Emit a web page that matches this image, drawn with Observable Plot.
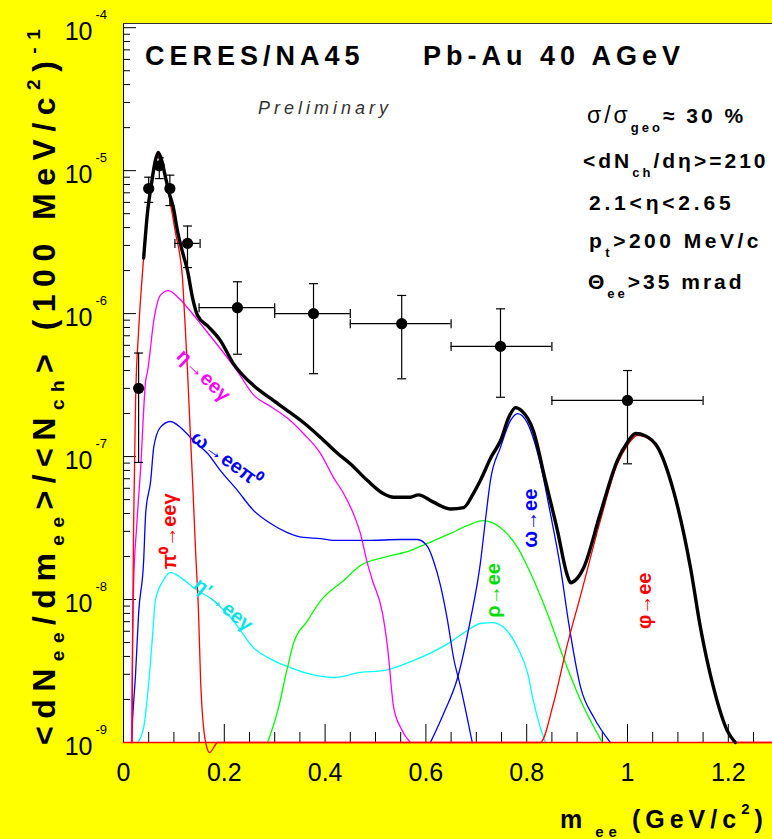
<!DOCTYPE html>
<html><head><meta charset="utf-8">
<script src="https://cdn.jsdelivr.net/npm/d3@7"></script>
<script src="https://cdn.jsdelivr.net/npm/@observablehq/plot@0.6"></script>
<style>
html,body{margin:0;padding:0;background:#ffff00;}
#chart{width:772px;height:839px;overflow:hidden;}
</style></head><body><div id="chart"></div>
<script>
// ---------- data ----------
const cocktail = [[0.040,2.45e-6],[0.048,5.25e-6],[0.056,8.3e-6],[0.063,1.17e-5],[0.069,1.34e-5],[0.076,1.17e-5],[0.083,9.1e-6],[0.091,6.9e-6],[0.099,5.5e-6],[0.107,3.8e-6],[0.117,2.7e-6],[0.127,2.0e-6],[0.137,1.29e-6],[0.147,9.7e-7],[0.167,8.2e-7],[0.192,6.5e-7],[0.218,4.47e-7],[0.258,3.14e-7],[0.292,2.55e-7],[0.325,2.10e-7],[0.357,1.73e-7],[0.391,1.36e-7],[0.425,1.05e-7],[0.450,8.9e-8],[0.484,6.8e-8],[0.516,5.5e-8],[0.536,5.2e-8],[0.569,5.2e-8],[0.585,5.4e-8],[0.615,4.8e-8],[0.649,4.3e-8],[0.675,4.4e-8],[0.694,5.5e-8],[0.708,6.8e-8],[0.730,1.0e-7],[0.748,1.29e-7],[0.765,1.9e-7],[0.778,2.2e-7],[0.790,2.09e-7],[0.813,1.52e-7],[0.837,6.8e-8],[0.861,3.04e-8],[0.880,1.5e-8],[0.887,1.31e-8],[0.898,1.38e-8],[0.913,1.67e-8],[0.946,3.99e-8],[0.980,9.4e-8],[1.000,1.26e-7],[1.016,1.45e-7],[1.035,1.40e-7],[1.060,1.16e-7],[1.091,5.8e-8],[1.125,1.67e-8],[1.145,6.3e-9],[1.171,2.4e-9],[1.198,1.21e-9],[1.214,1e-9]];

const pi0Dalitz = [[0.017,1e-9],[0.018,5.0e-9],[0.020,3.2e-8],[0.024,2.5e-7],[0.030,7.6e-7],[0.038,2.0e-6],[0.046,4.5e-6],[0.054,7.9e-6],[0.060,1.07e-5],[0.067,1.27e-5],[0.075,1.17e-5],[0.085,8.3e-6],[0.095,5.4e-6],[0.105,3.4e-6],[0.110,2.8e-6],[0.117,1.78e-6],[0.121,1.0e-6],[0.127,4.0e-7],[0.132,1.6e-7],[0.137,6.8e-8],[0.143,2.2e-8],[0.149,7.9e-9],[0.153,2.7e-9],[0.163,1e-9],[0.171,8.5e-10],[0.187,1e-9],[1.29,1e-9]];

const etaDalitz = [[0.016,1e-9],[0.018,5.0e-9],[0.020,1.26e-8],[0.026,3.2e-8],[0.034,8.3e-8],[0.044,3.4e-7],[0.048,4.0e-7],[0.060,8.9e-7],[0.073,1.34e-6],[0.089,1.45e-6],[0.109,1.29e-6],[0.127,1.10e-6],[0.159,7.98e-7],[0.192,5.7e-7],[0.226,3.95e-7],[0.258,2.7e-7],[0.292,2.24e-7],[0.325,1.86e-7],[0.357,1.45e-7],[0.391,1.05e-7],[0.417,7.1e-8],[0.437,5.5e-8],[0.456,4.0e-8],[0.470,2.9e-8],[0.484,1.79e-8],[0.494,1.36e-8],[0.514,8.0e-9],[0.524,4.6e-9],[0.536,1.76e-9],[0.550,1.27e-9],[0.569,1e-9]];

const omegaDalitz = [[0.016,1e-9],[0.018,1.43e-9],[0.024,3.04e-9],[0.030,8.0e-9],[0.040,1.87e-8],[0.044,4.0e-8],[0.054,6.8e-8],[0.060,1.16e-7],[0.073,1.60e-7],[0.093,1.76e-7],[0.113,1.60e-7],[0.139,1.29e-7],[0.167,1.05e-7],[0.192,8.0e-8],[0.226,5.8e-8],[0.258,4.2e-8],[0.292,3.4e-8],[0.325,2.94e-8],[0.357,2.72e-8],[0.391,2.67e-8],[0.417,2.59e-8],[0.484,2.59e-8],[0.550,2.63e-8],[0.583,2.63e-8],[0.603,2.35e-8],[0.615,1.87e-8],[0.629,1.25e-8],[0.643,7.1e-9],[0.655,3.9e-9],[0.669,2.43e-9],[0.683,1.43e-9],[0.692,1e-9]];

const etaPrimeDalitz = [[0.028,1e-9],[0.040,1.27e-9],[0.050,2.6e-9],[0.058,5.8e-9],[0.063,9.8e-9],[0.079,1.36e-8],[0.093,1.55e-8],[0.113,1.43e-8],[0.139,1.21e-8],[0.179,9.8e-9],[0.218,7.1e-9],[0.258,4.6e-9],[0.298,3.74e-9],[0.331,3.34e-9],[0.365,3.04e-9],[0.417,2.85e-9],[0.470,3.09e-9],[0.516,3.18e-9],[0.575,3.74e-9],[0.643,4.9e-9],[0.683,6.1e-9],[0.708,6.8e-9],[0.732,6.9e-9],[0.754,6.4e-9],[0.782,4.6e-9],[0.802,3.04e-9],[0.813,1.97e-9],[0.827,1.27e-9],[0.837,1e-9]];

const rhoEE = [[0.286,1e-9],[0.306,1.67e-9],[0.325,3.3e-9],[0.337,4.9e-9],[0.365,7.1e-9],[0.391,9.8e-9],[0.437,1.36e-8],[0.470,1.73e-8],[0.516,1.97e-8],[0.569,2.2e-8],[0.603,2.47e-8],[0.649,2.9e-8],[0.683,3.3e-8],[0.714,3.56e-8],[0.748,3.18e-8],[0.782,2.31e-8],[0.808,1.52e-8],[0.841,8.0e-9],[0.873,3.9e-9],[0.907,1.97e-9],[0.940,1.16e-9],[0.950,1e-9]];

const omegaEE = [[0.609,1e-9],[0.635,1.59e-9],[0.663,2.85e-9],[0.688,7.1e-9],[0.708,1.79e-8],[0.718,3.56e-8],[0.728,6.8e-8],[0.748,1.16e-7],[0.768,1.79e-7],[0.782,2.0e-7],[0.802,1.70e-7],[0.827,8.9e-8],[0.847,4.0e-8],[0.867,1.67e-8],[0.884,6.6e-9],[0.907,2.43e-9],[0.933,1.5e-9],[0.966,1e-9]];

const phiEE = [[0.0,1e-9],[0.827,1e-9],[0.853,1.87e-9],[0.881,4.9e-9],[0.907,1.07e-8],[0.946,3.55e-8],[0.980,8.9e-8],[1.000,1.2e-7],[1.020,1.41e-7],[1.035,1.37e-7],[1.060,1.13e-7],[1.091,5.7e-8],[1.125,1.66e-8],[1.145,6.2e-9],[1.171,2.4e-9],[1.198,1.2e-9],[1.214,1e-9],[1.29,1e-9]];

// data points: mass, yield, x-range, y-range
const dataMass  = [0.030, 0.050, 0.071, 0.092, 0.127, 0.226, 0.377, 0.552, 0.748, 1.000];
const dataYield = [3.0e-7, 7.5e-6, 1.08e-5, 7.5e-6, 3.1e-6, 1.10e-6, 1.0e-6, 8.5e-7, 5.9e-7, 2.47e-7];
const dataXlo   = [0.030, 0.050, 0.071, 0.092, 0.102, 0.150, 0.300, 0.450, 0.650, 0.850];
const dataXhi   = [0.030, 0.050, 0.071, 0.092, 0.152, 0.300, 0.450, 0.650, 0.850, 1.150];
const dataYlo   = [9.1e-8, 6.0e-6, 8.8e-6, 5.7e-6, 2.1e-6, 5.2e-7, 3.8e-7, 3.5e-7, 2.6e-7, 8.9e-8];
const dataYhi   = [5.3e-7, 9.0e-6, 1.23e-5, 9.3e-6, 4.1e-6, 1.67e-6, 1.62e-6, 1.34e-6, 1.08e-6, 4.0e-7];

// axis ticks
const xMajorTicks = [0, 0.2, 0.4, 0.6, 0.8, 1.0, 1.2];
const xTickLabels = ["0", "0.2", "0.4", "0.6", "0.8", "1", "1.2"];
const xMinorTicks = [0.05,0.1,0.15,0.25,0.3,0.35,0.45,0.5,0.55,0.65,0.7,0.75,0.85,0.9,0.95,1.05,1.1,1.15,1.25];
const yMajorTicks = [1e-9, 1e-8, 1e-7, 1e-6, 1e-5, 1e-4];
const yTickExp = ["-9", "-8", "-7", "-6", "-5", "-4"];
const yMinorTicks = yMajorTicks.slice(0, -1).flatMap(d => [2,3,4,5,6,7,8,9].map(k => k * d));

// curve labels
const curveLabels = [
  {text: "η→eeγ",   x: 0.159, y: 3.7e-7, rotate: 44, color: "#ff00ff"},
  {text: "ω→eeπ⁰",  x: 0.204, y: 9.6e-8, rotate: 36, color: "#0000ff"},
  {text: "π⁰→eeγ",  x: 0.091, y: 3.0e-8, rotate: -90, color: "#ff0000"},
  {text: "η'→eeγ",  x: 0.198, y: 9.2e-9, rotate: 40, color: "#00e5e5"},
  {text: "ρ→ee",    x: 0.734, y: 1.16e-8, rotate: -90, color: "#00dd00"},
  {text: "ω→ee",    x: 0.808, y: 3.7e-8, rotate: -90, color: "#0000ff"},
  {text: "φ→ee",    x: 1.034, y: 9.8e-9, rotate: -90, color: "#ff0000"}
];

// ---------- chart ----------
const FONT = "'Liberation Sans', Arial, Helvetica, sans-serif";
const W = 772, H = 839, ML = 123, MT = 23, MB = 97, MR = 0;
const innerW = W - ML - MR, innerH = H - MT - MB;
const X_DOMAIN = [0, 1.2877], Y_DOMAIN = [1e-9, 1.07e-4];

const points = dataMass.map((x, i) => ({x, y: dataYield[i], xlo: dataXlo[i], xhi: dataXhi[i], ylo: dataYlo[i], yhi: dataYhi[i]}));
const wide = points.filter(d => d.xhi > d.xlo);

const capH = {draw(ctx, size) { const r = Math.sqrt(size / Math.PI); ctx.moveTo(-r, 0); ctx.lineTo(r, 0); }};
const capV = {draw(ctx, size) { const r = Math.sqrt(size / Math.PI); ctx.moveTo(0, -r); ctx.lineTo(0, r); }};

const px = d => d[0], py = d => d[1];
const thin = (data, color) => Plot.line(data, {x: px, y: py, stroke: color, strokeWidth: 1.3, curve: "monotone-x"});

const chart = Plot.plot({
  width: W, height: H,
  marginLeft: ML, marginRight: MR, marginTop: MT, marginBottom: MB,
  style: {background: "#ffff00", fontFamily: FONT, overflow: "visible"},
  x: {domain: X_DOMAIN, axis: null},
  y: {type: "log", domain: Y_DOMAIN, axis: null},
  marks: [
    Plot.frame({fill: "white", stroke: "none"}),
    // ticks pointing inward
    Plot.ruleX(xMinorTicks, {x: d => d, insetTop: innerH - 10, stroke: "black"}),
    Plot.ruleX(xMajorTicks, {x: d => d, insetTop: innerH - 18, stroke: "black"}),
    Plot.ruleY(yMinorTicks, {y: d => d, insetRight: innerW - 7, stroke: "black"}),
    Plot.ruleY(yMajorTicks, {y: d => d, insetRight: innerW - 13, stroke: "black"}),
    // frame lines
    Plot.ruleX([X_DOMAIN[0]], {stroke: "black"}),
    Plot.ruleY([Y_DOMAIN[0]], {stroke: "black"}),
    Plot.ruleY([Y_DOMAIN[1]], {stroke: "#333"}),
    // tick labels
    Plot.text(xMajorTicks, {x: d => d, frameAnchor: "bottom", dy: 38, text: (d, i) => xTickLabels[i], fontSize: 25, fill: "black"}),
    Plot.text(yMajorTicks, {y: d => d, frameAnchor: "left", dx: -31, dy: 4, text: () => "10", textAnchor: "end", fontSize: 25, fill: "black"}),
    Plot.text(yMajorTicks, {y: d => d, frameAnchor: "left", dx: -28, dy: -13, text: (d, i) => yTickExp[i], textAnchor: "start", fontSize: 13, fill: "black"}),
    // cocktail components
    thin(etaPrimeDalitz, "#00ffff"),
    thin(rhoEE, "#00ff00"),
    thin(omegaDalitz, "#0000ff"),
    thin(omegaEE, "#0000ff"),
    thin(etaDalitz, "#ff00ff"),
    thin(pi0Dalitz, "#ff0000"),
    thin(phiEE, "#ff0000"),
    Plot.line(cocktail, {x: px, y: py, stroke: "black", strokeWidth: 3.4, curve: "monotone-x"}),
    // curve labels
    ...curveLabels.map(l => Plot.text([l], {x: "x", y: "y", text: "text", rotate: l.rotate, fill: l.color, fontSize: 20, fontWeight: "bold", letterSpacing: 1.5})),
    // data with error bars
    Plot.ruleX(points, {x: "x", y1: "ylo", y2: "yhi", stroke: "black", strokeWidth: 1.2}),
    Plot.ruleY(wide, {y: "y", x1: "xlo", x2: "xhi", stroke: "black", strokeWidth: 1.2}),
    Plot.dot(points, {x: "x", y: "ylo", symbol: capH, r: 4.5, stroke: "black", strokeWidth: 1.2}),
    Plot.dot(points, {x: "x", y: "yhi", symbol: capH, r: 4.5, stroke: "black", strokeWidth: 1.2}),
    Plot.dot(wide, {x: "xlo", y: "y", symbol: capV, r: 4.5, stroke: "black", strokeWidth: 1.2}),
    Plot.dot(wide, {x: "xhi", y: "y", symbol: capV, r: 4.5, stroke: "black", strokeWidth: 1.2}),
    Plot.dot(points, {x: "x", y: "y", r: 5.6, fill: "black", stroke: "none"})
  ]
});

// ---------- rich text annotations ----------
const svg = d3.select(chart);
const g = svg.append("g").attr("font-family", FONT).attr("text-anchor", "start");
function rich(x, y, parts, opts = {}) {
  const t = g.append("text").attr("x", x).attr("y", y).attr("fill", opts.fill || "black")
    .attr("text-anchor", "start");
  if (opts.rotate) t.attr("transform", `rotate(${opts.rotate},${x},${y})`);
  if (opts.letterSpacing != null) t.attr("letter-spacing", opts.letterSpacing);
  let cur = 0;
  for (const p of parts) {
    const shift = p.shift || 0;
    const s = t.append("tspan").attr("dy", shift - cur).attr("font-size", p.size)
      .attr("font-weight", p.weight || "bold").text(p.t);
    if (p.dx) s.attr("dx", p.dx);
    if (p.style) s.attr("font-style", p.style);
    cur = shift;
  }
  return t;
}

// titles
rich(145, 65, [{t: "CERES/NA45", size: 27}], {letterSpacing: 5});
rich(423, 65, [{t: "Pb-Au 40 AGeV", size: 27}], {letterSpacing: 5});
rich(258, 114, [{t: "Preliminary", size: 18, weight: "normal", style: "italic"}], {letterSpacing: 4, fill: "#333"});

// conditions
const LS = 3;
rich(587, 123, [{t: "σ/σ", size: 23, weight: "normal"}, {t: "geo", size: 13, shift: 9}, {t: "≈ 30 %", size: 21}], {letterSpacing: LS});
rich(583, 168, [{t: "<dN", size: 21}, {t: "ch", size: 13, shift: 9}, {t: "/dη>=210", size: 21}], {letterSpacing: LS});
rich(589, 210, [{t: "2.1<η<2.65", size: 21}], {letterSpacing: 3.8});
rich(589, 248, [{t: "p", size: 21}, {t: "t", size: 13, shift: 9}, {t: ">200 MeV/c", size: 21}], {letterSpacing: 3.5});
rich(588, 289, [{t: "Θ", size: 21}, {t: "ee", size: 13, shift: 9}, {t: ">35 mrad", size: 21}], {letterSpacing: LS});

// axis titles
rich(560, 828, [{t: "m", size: 25}, {t: "ee", size: 15, shift: 9, dx: 8}, {t: "(GeV/c", size: 25, dx: 10}, {t: "2", size: 15, shift: -14}, {t: ")", size: 25}], {letterSpacing: 5});
rich(55, 745, [
  {t: "<dN", size: 32}, {t: "ee", size: 19, shift: 9}, {t: "/dm", size: 32}, {t: "ee", size: 19, shift: 9},
  {t: ">/<N", size: 32}, {t: "ch", size: 19, shift: 9}, {t: "> (100 MeV/c", size: 32},
  {t: "2", size: 19, shift: -15}, {t: ")", size: 32}, {t: "-1", size: 19, shift: -15}
], {rotate: -90, letterSpacing: 7.5});

document.getElementById("chart").appendChild(chart);
</script>
</body></html>
